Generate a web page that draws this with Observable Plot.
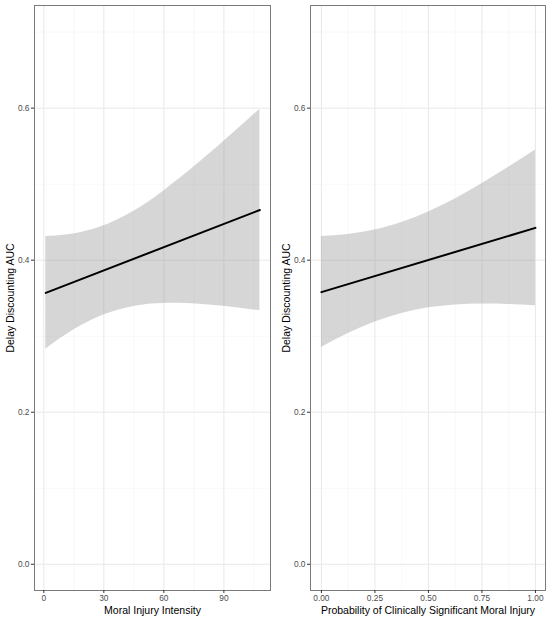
<!DOCTYPE html>
<html>
<head>
<meta charset="utf-8">
<script src="https://cdn.jsdelivr.net/npm/d3@7"></script>
<script src="https://cdn.jsdelivr.net/npm/@observablehq/plot@0.6"></script>
<style>
  body { margin: 0; background: white; }
  #row { display: flex; flex-direction: row; width: 550px; height: 620px; }
  svg g[aria-label="y-axis tick label"], svg g[aria-label="x-axis tick label"] { font-size: 8.3px; fill: #4d4d4d; }
  svg g[aria-label="y-axis label"], svg g[aria-label="x-axis label"] { font-size: 10.5px; fill: #000; }
  svg g[aria-label="y-axis tick"], svg g[aria-label="x-axis tick"] { stroke: #333; }
</style>
</head>
<body>
<div id="row"></div>
<script>
// ---- Data ----
const yTicks = [0, 0.2, 0.4, 0.6];
const yMinor = [0.1, 0.3, 0.5, 0.7];
const yLabel = "Delay Discounting AUC";

// Left panel: Moral Injury Intensity
const intensityX     = [1, 12, 28, 45, 60, 78, 95, 108];
const intensityFit   = [0.357, 0.368, 0.3845, 0.402, 0.417, 0.4355, 0.453, 0.466];
const intensityUpper = [0.431, 0.4333, 0.4432, 0.4644, 0.4911, 0.529, 0.5678, 0.5985];
const intensityLower = [0.283, 0.3031, 0.3258, 0.3392, 0.3431, 0.342, 0.3378, 0.3335];
const intensityTicks = [0, 30, 60, 90];
const intensityMinor = [15, 45, 75, 105];
const intensityLabel = "Moral Injury Intensity";

// Right panel: Probability of Clinically Significant Moral Injury
const probX     = [0, 0.125, 0.25, 0.375, 0.5, 0.625, 0.75, 0.875, 1];
const probFit   = [0.358, 0.3686, 0.3791, 0.3897, 0.4003, 0.4108, 0.4214, 0.4319, 0.4425];
const probUpper = [0.431, 0.4338, 0.4396, 0.4494, 0.4633, 0.4805, 0.5005, 0.5221, 0.545];
const probLower = [0.285, 0.3034, 0.3186, 0.33, 0.3373, 0.3411, 0.3423, 0.3417, 0.34];
const probTicks = [0, 0.25, 0.5, 0.75, 1];
const probMinor = [0.125, 0.375, 0.625, 0.875];
const probLabel = "Probability of Clinically Significant Moral Injury";

function makeTable(xs, fit, lo, hi) {
  return xs.map((x, i) => ({x, fit: fit[i], lo: lo[i], hi: hi[i]}));
}

function panel({data, xDomain, major, minor, tickFormat, xLabel, marginLeft}) {
  const ends = [data[0], data[data.length - 1]];
  return Plot.plot({
    width: 275,
    height: 620,
    marginLeft,
    marginRight: 5,
    marginTop: 5,
    marginBottom: 30,
    style: {fontFamily: "'Liberation Sans', Arial, Helvetica, sans-serif", background: "white", color: "#4d4d4d"},
    x: {domain: xDomain},
    y: {domain: [-0.0345, 0.735]},
    marks: [
      Plot.gridX(minor, {stroke: "#f3f3f3", strokeOpacity: 1, strokeWidth: 0.6}),
      Plot.gridY(yMinor, {stroke: "#f3f3f3", strokeOpacity: 1, strokeWidth: 0.6}),
      Plot.gridX(major, {stroke: "#e8e8e8", strokeOpacity: 1, strokeWidth: 1}),
      Plot.gridY(yTicks, {stroke: "#e8e8e8", strokeOpacity: 1, strokeWidth: 1}),
      Plot.areaY(data, {x: "x", y1: "lo", y2: "hi", fill: "#999999", fillOpacity: 0.4, curve: "natural"}),
      Plot.lineY(ends, {x: "x", y: "fit", stroke: "black", strokeWidth: 2}),
      Plot.frame({stroke: "#7a7a7a", strokeWidth: 1}),
      Plot.axisY(yTicks, {
        tickFormat: d3.format(".1f"), tickSize: 3, tickPadding: 2,
        label: yLabel, labelAnchor: "center", labelArrow: "none", labelOffset: 28
      }),
      Plot.axisX(major, {
        tickFormat, tickSize: 3, tickPadding: 2,
        label: xLabel, labelAnchor: "center", labelArrow: "none", labelOffset: 23
      })
    ]
  });
}

const row = document.getElementById("row");
row.append(panel({
  data: makeTable(intensityX, intensityFit, intensityLower, intensityUpper),
  xDomain: [-4.65, 113.3],
  major: intensityTicks,
  minor: intensityMinor,
  tickFormat: d3.format("d"),
  xLabel: intensityLabel,
  marginLeft: 34
}));
row.append(panel({
  data: makeTable(probX, probFit, probLower, probUpper),
  xDomain: [-0.051, 1.047],
  major: probTicks,
  minor: probMinor,
  tickFormat: d3.format(".2f"),
  xLabel: probLabel,
  marginLeft: 35
}));
</script>
</body>
</html>
